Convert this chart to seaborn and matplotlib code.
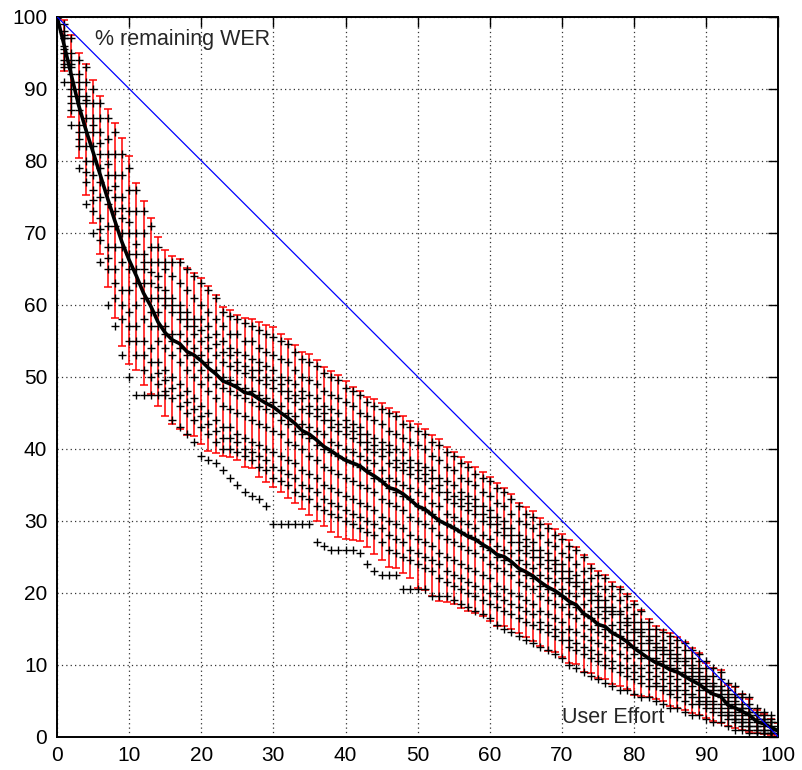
import numpy as np
import pandas as pd
import matplotlib
matplotlib.use("Agg")
import matplotlib.pyplot as plt
import seaborn as sns

# ---------------- data ----------------
effort = list(range(0, 101))

mean_wer = [100, 96.0, 91.8, 87.7, 84.3, 81.2, 78.0, 74.8, 71.7, 68.7, 66.2,
            64.0, 61.6, 59.8, 57.6, 56.1, 55.1, 54.6, 53.5, 53.0, 52.2,
            51.2, 50.4, 49.4, 49.0, 48.5, 47.8, 47.6, 46.9, 46.3, 45.8,
            45.0, 44.3, 43.5, 42.5, 42.0, 41.2, 40.3, 39.7, 39.0, 38.4,
            38.0, 37.6, 36.8, 36.2, 35.5, 34.6, 34.3, 33.7, 32.9, 32.0,
            31.6, 30.8, 30.0, 29.5, 29.0, 28.4, 27.8, 27.4, 26.7, 26.1,
            25.3, 25.0, 24.3, 23.4, 22.9, 22.3, 21.5, 20.8, 20.3, 19.6,
            18.8, 18.3, 17.1, 16.5, 15.6, 15.3, 14.4, 13.9, 13.2, 12.3,
            11.6, 10.9, 10.3, 9.9, 9.3, 9.0, 8.4, 7.8, 7.3, 6.5,
            5.9, 5.6, 4.4, 4.0, 3.5, 3.0, 2.1, 1.8, 1.3, 0.8]

err_high = [100, 99.6, 97.4, 95.0, 93.4, 91.2, 89.0, 87.2, 85.2, 83.1, 80.6,
            76.9, 74.4, 72.0, 69.4, 67.6, 66.7, 66.4, 65.1, 64.4, 63.7,
            62.6, 61.4, 59.7, 59.2, 58.6, 58.2, 58.0, 57.6, 57.2, 56.9,
            56.0, 55.3, 54.4, 53.4, 53.2, 52.3, 51.4, 50.8, 50.2, 49.4,
            48.6, 48.0, 47.2, 46.9, 46.4, 45.6, 45.1, 44.5, 43.8, 43.4,
            42.8, 41.9, 41.3, 40.3, 39.5, 38.9, 38.2, 37.5, 36.7, 36.1,
            35.2, 34.6, 33.7, 32.4, 31.9, 31.3, 30.4, 29.6, 28.8, 28.1,
            27.3, 26.4, 25.2, 24.0, 23.0, 22.5, 21.5, 20.8, 19.8, 18.8,
            17.6, 16.3, 15.4, 14.8, 14.4, 13.9, 13.1, 12.3, 11.6, 10.3,
            9.6, 9.3, 7.2, 6.9, 6.0, 5.2, 3.7, 3.2, 2.4, 1.9]

err_low = [100, 92.5, 86.1, 80.4, 75.3, 71.3, 67.0, 62.4, 58.2, 54.3, 51.8,
           51.0, 48.8, 47.6, 45.9, 44.6, 43.5, 42.8, 41.9, 41.7, 40.6,
           39.7, 39.4, 39.0, 38.8, 38.4, 37.4, 37.3, 36.1, 35.4, 34.7,
           34.0, 33.2, 32.5, 31.6, 30.8, 30.0, 29.2, 28.5, 27.7, 27.4,
           27.3, 27.2, 26.3, 25.4, 24.5, 23.6, 23.5, 22.8, 22.0, 20.7,
           20.4, 19.6, 18.8, 18.7, 18.4, 17.9, 17.4, 17.2, 16.7, 16.1,
           15.4, 15.4, 14.9, 14.4, 13.9, 13.3, 12.6, 11.9, 11.8, 11.1,
           10.2, 10.1, 9.0, 8.9, 8.1, 8.0, 7.3, 7.0, 6.6, 5.8,
           5.6, 5.5, 5.2, 4.9, 4.2, 4.0, 3.7, 3.3, 3.0, 2.6,
           2.2, 1.9, 1.5, 1.2, 0.9, 0.7, 0.5, 0.4, 0.2, 0.1]

# individual runs (the "+" marks)
run_a = [100, 99, 97, 94, 93, 90, 88, 86, 84, 81, 79,
         76, 73, 71, 68, 66, 66, 66, 65, 64, 63,
         62, 61, 59, 58.5, 58, 57.5, 57, 56.5, 56, 55.5,
         55, 54.5, 53.5, 52.5, 52, 51.5, 50.5, 50, 49.5, 48.5,
         48, 47.5, 46.5, 46, 45.5, 45, 44.5, 43.5, 43, 42.5,
         42, 41, 40.5, 39.5, 39, 38, 37.5, 36.5, 36, 35.5,
         34.5, 34, 33, 32, 31, 30.5, 29.5, 29, 28, 27.5,
         26.5, 26, 25, 23.5, 22.5, 22, 21, 20.5, 19.5, 18.5,
         17.5, 16, 15, 14.5, 14, 13.5, 13, 12, 11.5, 10.5,
         9.5, 9, 7.5, 7, 6, 5.5, 4, 3.5, 3, 2]
run_b = [100, 98, 95, 92, 91, 88, 86, 83, 81, 78, 76,
         73, 70, 68, 66, 65, 64, 63, 62, 61, 60,
         59, 58, 57, 56, 56, 55, 55, 54, 53.5, 53,
         52.5, 52, 51, 50, 49.5, 49, 48, 47.5, 47, 46.5,
         46, 45, 44.5, 44, 43.5, 42.5, 42, 41.5, 41, 40.5,
         40, 39, 38.5, 37.5, 37, 36, 35.5, 35, 34, 33.5,
         32.5, 32, 31, 30, 29.5, 29, 28, 27, 26.5, 25.5,
         25, 24, 23, 22, 21, 20.5, 19.5, 19, 18, 17,
         16, 15, 14, 13.5, 13, 12.5, 12, 11, 10.5, 9.5,
         8.5, 8, 6.5, 6, 5.5, 4.5, 3.5, 3, 2.5, 1.5]
run_c = [100, 97.5, 94, 91, 89, 86, 84, 81, 78, 75, 73,
         70, 67, 66, 64, 62, 61, 60, 59, 58, 58,
         57, 56, 55, 54, 53.5, 53, 52.5, 52, 51.5, 51,
         50, 49.5, 49, 48, 47.5, 47, 46, 45.5, 45, 44,
         43.5, 43, 42, 41.5, 41, 40.5, 40, 39.5, 38.5, 38,
         37.5, 37, 36, 35.5, 35, 34, 33.5, 33, 32, 31.5,
         30.5, 30, 29, 28, 27.5, 27, 26, 25.5, 24.5, 24,
         23, 22.5, 21.5, 20.5, 19.5, 19, 18, 17.5, 16.5, 16,
         15, 14, 13, 12.5, 12, 11.5, 11, 10, 9.5, 8.5,
         7.5, 7, 6, 5.5, 4.5, 4, 3, 2.5, 2, 1]
run_k = [100, 97, 93.5, 90, 88.5, 85, 82.5, 79.5, 76.5, 73.5, 71.5,
         68.5, 66, 64.5, 62.5, 61, 60, 59, 58, 57, 56.5,
         55.5, 54.5, 53.5, 53, 52, 51.5, 51, 51, 50, 49.5,
         49, 48, 47.5, 47, 46, 45.5, 45, 44, 43.5, 43,
         42.5, 42, 41, 40.5, 40, 39.5, 38.5, 38, 37.5, 37,
         36.5, 36, 35, 34, 33.5, 33, 32.5, 32, 31, 30.5,
         29.5, 29, 28, 27, 26.5, 26, 25, 24.5, 24, 23,
         22, 21.5, 20.5, 20, 19, 18, 17.5, 17, 16, 15,
         14.5, 13.5, 12.5, 12, 11.5, 11, 10.5, 9.5, 9, 8,
         7, 6.5, 5.5, 5, 4, 3.5, 3, 2.5, 2, 1]
run_d = [100, 97, 93, 89, 88, 84, 81, 78, 75, 72, 70,
         67, 65, 63, 61, 60, 59, 58, 57, 56, 55,
         54, 53, 52, 51.5, 51, 50.5, 50, 49.5, 49, 48.5,
         48, 47, 46.5, 45.5, 45, 44.5, 44, 43, 42.5, 42,
         41.5, 41, 40, 39.5, 39, 38, 37.5, 37, 36.5, 36,
         35.5, 34.5, 34, 33, 32.5, 32, 31.5, 31, 30, 29.5,
         28.5, 28, 27, 26, 25.5, 25, 24, 23.5, 23, 22,
         21.5, 21, 20, 19, 18, 17.5, 17, 16, 15.5, 14.5,
         14, 13, 12, 11.5, 11, 10.5, 10, 9, 8.5, 7.5,
         7, 6.5, 5, 4.5, 4, 3.5, 2.5, 2, 1.5, 1]
run_e = [100, 96, 92, 88, 86, 82, 79, 76, 73, 70, 67,
         65, 63, 61, 59, 57, 56, 56, 55, 54, 53,
         52, 51, 50, 49.5, 49, 48.5, 48, 47.5, 47, 46.5,
         46, 45, 44.5, 43.5, 43, 42.5, 42, 41, 40.5, 40,
         39.5, 39, 38.5, 38, 37, 36, 35.5, 35, 34.5, 34,
         33.5, 32.5, 32, 31, 30.5, 30, 29.5, 29, 28, 27.5,
         26.5, 26, 25.5, 24.5, 24, 23.5, 22.5, 22, 21.5, 20.5,
         20, 19.5, 18.5, 17.5, 17, 16.5, 15.5, 15, 14.5, 13.5,
         13, 12, 11, 10.5, 10, 9.5, 9, 8.5, 8, 7,
         6.5, 6, 4.5, 4, 3.5, 3, 2, 2, 1, 0.5]
run_f = [100, 95.5, 91, 87, 84, 80, 77, 74, 71, 68, 65,
         63, 61, 59, 57, 56, 55, 54, 53, 52, 51,
         50, 49, 48.5, 48, 47.5, 47, 46.5, 46, 45.5, 45,
         44, 43.5, 42.5, 42, 41.5, 40.5, 40, 39.5, 39, 38.5,
         38, 37.5, 37, 36, 35.5, 34.5, 34, 33.5, 33, 32,
         31.5, 31, 30, 29.5, 29, 28.5, 28, 27.5, 26.5, 26,
         25, 24.5, 24, 23, 22.5, 22, 21, 20.5, 20, 19.5,
         18.5, 18, 17, 16.5, 15.5, 15, 14.5, 14, 13.5, 12.5,
         12, 11, 10.5, 10, 9.5, 9, 8.5, 8, 7.5, 6.5,
         6, 5.5, 4, 3.5, 3, 2.5, 1.5, 1.5, 1, 0.5]
run_g = [100, 95, 90, 85, 82, 78, 75, 71, 68, 66, 62,
         60, 58, 57, 55, 54, 53, 52, 51, 50, 49,
         48, 47, 46, 45.5, 45, 44.5, 44, 43.5, 43, 42.5,
         42, 41, 40.5, 40, 39, 38.5, 37.5, 37, 36.5, 36,
         35.5, 35, 34.5, 34, 33, 32.5, 32, 31.5, 30.5, 30,
         29.5, 29, 28, 27.5, 27, 26.5, 26, 25.5, 25, 24,
         23.5, 23, 22.5, 21.5, 21, 20.5, 19.5, 19, 18.5, 18,
         17, 16.5, 15.5, 15, 14.5, 14, 13.5, 13, 12.5, 11.5,
         11, 10, 9.5, 9, 8.5, 8, 7.5, 7, 6.5, 5.5,
         5, 4.5, 3.5, 3, 2.5, 2, 1.5, 1, 0.5, 0]
run_h = [100, 94, 89, 84, 80, 76, 72, 68, 65, 62, 59,
         57, 55, 54, 52, 51, 50, 49, 48, 47, 46,
         45, 44, 43, 43, 42, 41.5, 41, 40.5, 40, 39.5,
         39, 38.5, 38, 37, 36.5, 36, 35, 34.5, 34, 33.5,
         33, 32.5, 32, 31.5, 30.5, 30, 29.5, 29, 28, 27.5,
         27, 26.5, 25.5, 25, 24.5, 24, 23.5, 23, 22.5, 22,
         21, 20.5, 20, 19.5, 19, 18.5, 17.5, 17, 16.5, 16,
         15, 14.5, 14, 13.5, 13, 12.5, 12, 11.5, 11, 10,
         9.5, 9, 8.5, 8, 7.5, 7, 6.5, 6, 5.5, 5,
         4.5, 4, 3, 2.5, 2, 1.5, 1, 0.5, 0.5, 0]
run_l = [100, 93.5, 88, 83, 78.5, 74.5, 70.5, 66.5, 63, 60, 57,
         55, 53, 52, 50.5, 49.5, 48.5, 47.5, 46.5, 45.5, 44.5,
         43.5, 42.5, 41.5, 41.5, 41, 40, 39.5, 39, 38.5, 37.5,
         37, 36.5, 36, 35, 34.5, 34, 33, 32.5, 32, 31.5,
         31, 30.5, 30, 29.5, 29, 28, 27.5, 27, 26, 25.5,
         25, 24.5, 24, 23, 22.5, 22, 21.5, 21, 20.5, 20,
         19.5, 19, 18.5, 18, 17.5, 17, 16, 15.5, 15, 14.5,
         13.5, 13, 12.5, 12, 11.5, 11, 10.5, 10, 9.5, 9,
         8.5, 8, 7.5, 7, 6.5, 6.5, 6, 5.5, 5, 4.5,
         4, 3.5, 3, 2.5, 2, 1.5, 1, 1, 0.5, 0]
run_i = [100, 93, 87, 82, 77, 73, 69, 65, 61, 58, 55,
         53, 51, 50, 49, 48, 47, 46, 45, 44, 43,
         42, 41, 40, 40, 39.5, 39, 38.5, 37.5, 37, 36,
         35.5, 35, 34, 33.5, 33, 32, 31.5, 31, 30.5, 30,
         29.5, 29, 28.5, 28, 27, 26, 25.5, 25, 24.5, 24,
         23.5, 23, 22, 21.5, 21, 20.5, 20, 19.5, 19, 18.5,
         18, 17.5, 17, 16.5, 16, 15.5, 15, 14.5, 14, 13.5,
         12.5, 12, 11.5, 11, 10.5, 10, 9.5, 9, 8.5, 8,
         7.5, 7, 7, 6.5, 6, 5.5, 5, 4.5, 4.5, 4,
         3.5, 3, 2.5, 2, 1.5, 1, 0.5, 0.5, 0, 0]
run_j = [100, 91, 85, 79, 74, 70, 66, 60, 57, 53, 50,
         47.5, 47.5, 47.5, 47.5, 47.5, 44, 43, 42, 41, 39,
         38.5, 38, 37, 36, 35, 34, 33.5, 33, 32, 29.5,
         29.5, 29.5, 29.5, 29.5, 29.5, 27, 26.5, 26, 26, 26,
         26, 25.5, 24, 23, 22.5, 22.5, 22.5, 20.5, 20.5, 20.5,
         20.5, 19.5, 19.5, 19.5, 19, 18.5, 18, 17.5, 17, 16.5,
         15.5, 15, 14.5, 14, 13.5, 13, 12.5, 12, 11.5, 11,
         10, 9.5, 9, 8.5, 8, 7.5, 7, 6.5, 6.5, 6,
         5.5, 5.5, 5, 4.5, 4, 4, 3.5, 3, 3, 2.5,
         2, 2, 1.5, 1, 1, 0.5, 0, 0, 0, 0]

diag_x = [0, 100]
diag_y = [100, 0]

x_ticks = [0, 10, 20, 30, 40, 50, 60, 70, 80, 90, 100]
y_ticks = [0, 10, 20, 30, 40, 50, 60, 70, 80, 90, 100]
label_y = "% remaining WER"
label_x = "User Effort"

# ---------------- style ----------------
sns.set_style("white")
plt.rcParams["font.family"] = ["Liberation Sans", "DejaVu Sans"]

fig = plt.figure(figsize=(8.02, 7.70), dpi=100)
ax = fig.add_axes([0.0711, 0.0432, 0.8994, 0.9351])

runs = [run_a, run_b, run_c, run_k, run_d, run_e, run_f, run_g, run_h,
        run_l, run_i, run_j]
pts = pd.DataFrame({
    "effort": np.tile(effort, len(runs)),
    "wer": np.concatenate([np.asarray(r, float) for r in runs]),
})

x_arr = np.asarray(effort, float)
m_arr = np.asarray(mean_wer, float)
lo_arr = np.asarray(err_low, float)
hi_arr = np.asarray(err_high, float)

# error bars
ax.errorbar(x_arr, m_arr, yerr=[m_arr - lo_arr, hi_arr - m_arr], fmt="none",
            ecolor="#ff0000", elinewidth=1.1, capsize=3.2, capthick=1.1, zorder=2)

# individual points
sns.scatterplot(data=pts, x="effort", y="wer", marker="+", color="black",
                s=34, linewidth=1.0, ax=ax, zorder=3, legend=False)

# mean curve
sns.lineplot(x=effort, y=mean_wer, color="black", linewidth=2.6, ax=ax,
             zorder=4, legend=False)

# diagonal reference
sns.lineplot(x=diag_x, y=diag_y, color="#0000ff", linewidth=0.9, ax=ax,
             zorder=5, legend=False)

ax.set_xlim(0, 100)
ax.set_ylim(0, 100)
ax.set_xticks(x_ticks)
ax.set_yticks(y_ticks)
ax.set_xlabel("")
ax.set_ylabel("")
ax.tick_params(direction="in", length=7, width=1.0, top=True, right=True,
               labelsize=15, colors="black", pad=7)
ax.grid(True, linestyle=(0, (1, 2.5)), color="#333333", linewidth=0.9)
ax.set_axisbelow(True)
for sp in ax.spines.values():
    sp.set_visible(True)
    sp.set_color("black")
    sp.set_linewidth(1.4)

ax.text(5.2, 96.8, label_y, fontsize=15.5, ha="left", va="center", zorder=6)
ax.text(70.0, 2.7, label_x, fontsize=15.5, ha="left", va="center", zorder=6)

fig.savefig("out.png", dpi=100)
